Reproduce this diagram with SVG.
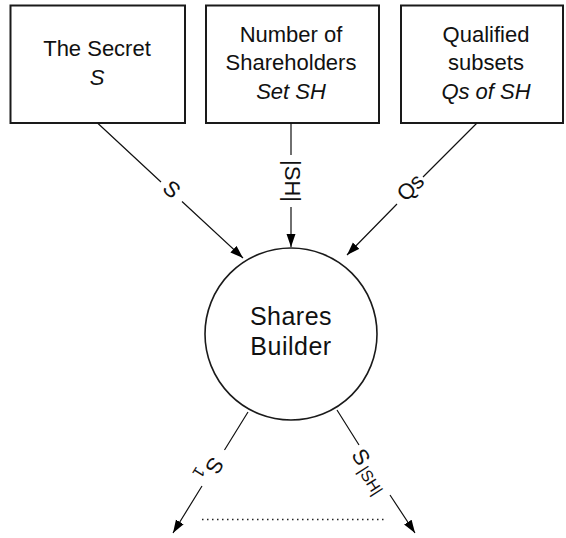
<svg xmlns="http://www.w3.org/2000/svg" width="566" height="538" viewBox="0 0 566 538">
  <style>
    .box { fill: #ffffff; stroke: #1a1a1a; stroke-width: 2; }
    .hub { fill: #ffffff; stroke: #1a1a1a; stroke-width: 1.6; }
    .lbl { font-family: "Liberation Sans", Arial, sans-serif; font-size: 22px; fill: #111111; text-anchor: middle; }
    .hubtxt { font-family: "Liberation Sans", Arial, sans-serif; font-size: 25px; fill: #111111; text-anchor: middle; letter-spacing: 0.5px; }
    .it { font-style: italic; }
    .edge { fill: none; stroke: #111111; stroke-width: 1.2; }
    .elbl { font-family: "Liberation Sans", Arial, sans-serif; font-size: 22px; fill: #111111; }
    .sub { font-size: 16px; }
    .dots { fill: none; stroke: #222222; stroke-width: 1.3; stroke-dasharray: 1.5 3.5; }
  </style>
  <defs>
    <marker id="arrow" markerUnits="userSpaceOnUse" markerWidth="14" markerHeight="10" refX="13" refY="4.5" orient="auto">
      <path d="M0,0 L13,4.5 L0,9 z" fill="#000000"/>
    </marker>
  </defs>

  <rect width="566" height="538" fill="#ffffff"/>

  <!-- input nodes -->
  <g id="secret">
    <rect class="box" x="10.5" y="5.5" width="174.5" height="117.5"/>
    <text class="lbl" x="97" y="56">The Secret</text>
    <text class="lbl it" x="97" y="85">S</text>
  </g>

  <g id="shareholders">
    <rect class="box" x="206" y="5.5" width="173" height="117.5"/>
    <text class="lbl" x="291" y="41.5">Number of</text>
    <text class="lbl" x="291" y="70">Shareholders</text>
    <text class="lbl it" x="291" y="99">Set SH</text>
  </g>

  <g id="qualified">
    <rect class="box" x="401" y="5.5" width="162" height="117.5"/>
    <text class="lbl" x="486" y="41.5">Qualified</text>
    <text class="lbl" x="486" y="70">subsets</text>
    <text class="lbl it" x="486" y="99">Qs of SH</text>
  </g>

  <!-- central node -->
  <g id="builder">
    <circle class="hub" cx="291" cy="334" r="86"/>
    <text class="hubtxt" x="291" y="325">Shares</text>
    <text class="hubtxt" x="291" y="355">Builder</text>
  </g>

  <!-- connectors, each broken where its label sits -->
  <g id="connectors">
    <path class="edge" d="M97.5,123 L161,182 M182,201.5 L243,258" marker-end="url(#arrow)"/>
    <text class="elbl" text-anchor="middle" transform="translate(172,189) rotate(43)" x="0" y="8">S</text>

    <path class="edge" d="M291,123 L291,155 M291,207 L291,247" marker-end="url(#arrow)"/>
    <text class="elbl" text-anchor="middle" font-size="21" transform="translate(291,181) rotate(90)" x="0" y="6">|SH|</text>

    <path class="edge" d="M477,123 L423,177 M397,204 L347,255" marker-end="url(#arrow)"/>
    <text class="elbl" text-anchor="middle" transform="translate(410,187) rotate(-45)" x="0" y="8">Qs</text>

    <path class="edge" d="M248,412 L224.5,450 M202,486 L173,533" marker-end="url(#arrow)"/>
    <text class="elbl" transform="translate(215,466) rotate(121.8)" x="-7.3" y="8">S<tspan class="sub" x="9.5" y="16">1</tspan></text>

    <path class="edge" d="M337,410 L359,445 M390,495 L415,533" marker-end="url(#arrow)"/>
    <text class="elbl" transform="translate(361.5,456.5) rotate(57.6)" x="-7.3" y="8">S<tspan class="sub" x="10" y="11">|SH|</tspan></text>

    <line class="dots" x1="202" y1="519.5" x2="384" y2="519.5"/>
  </g>
</svg>
